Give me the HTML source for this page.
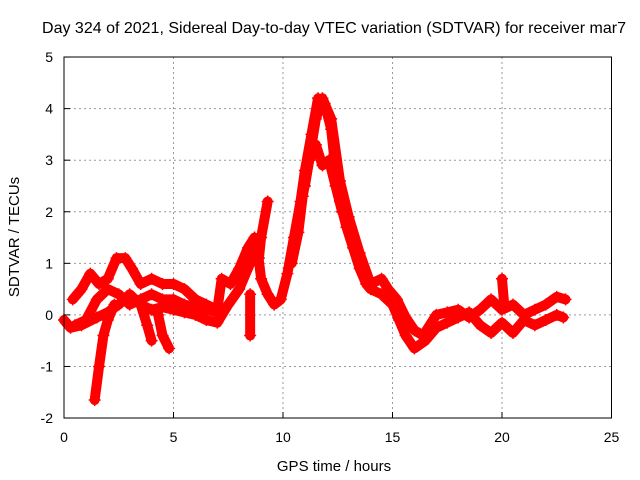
<!DOCTYPE html>
<html><head><meta charset="utf-8"><style>
body{margin:0;background:#fff;}
svg{display:block;font-family:"Liberation Sans",sans-serif;}
</style></head><body>
<svg id="chart" width="640" height="480">
<rect width="640" height="480" fill="#fff"/>
<text x="334" y="33" font-size="16" text-anchor="middle">Day 324 of 2021, Sidereal Day-to-day VTEC variation (SDTVAR) for receiver mar7</text>
<text x="334" y="471" font-size="15" text-anchor="middle">GPS time / hours</text>
<text transform="translate(19,237) rotate(-90)" font-size="15" text-anchor="middle">SDTVAR / TECUs</text>
<g id="grid"></g><g id="ticks"></g><g id="series"></g>
<rect x="64" y="57" width="547.5" height="361" fill="none" stroke="#000" stroke-width="1"/>
</svg>
<script>
const xTicks=[0,5,10,15,20,25];
const yTicks=[-2,-1,0,1,2,3,4,5];
const traceA=[[0,-0.1],[0.3,-0.25],[0.8,-0.2],[1.5,-0.05],[2,0.05],[2.5,0.2],[3,0.4],[3.5,0.2],[4,0.1],[4.5,0.15],[5,0.1],[5.5,0.05],[6,0.0],[6.5,-0.1],[7,-0.15],[7.5,0.2],[8,0.5],[8.5,1.0],[8.8,1.4],[9,0.7],[9.3,0.4],[9.6,0.2],[9.9,0.3],[10.2,0.8],[10.5,1.5],[10.8,2.2],[11,2.8],[11.3,3.5],[11.6,4.2],[11.9,4.1],[12.2,3.6],[12.4,2.8],[12.6,2.2],[12.9,1.7],[13.2,1.3],[13.5,0.9],[13.8,0.6],[14,0.5],[14.5,0.4],[15,0.2],[15.3,-0.1],[15.6,-0.4],[16,-0.65],[16.5,-0.5],[17,-0.25],[17.5,-0.15],[18,-0.05],[18.5,0.05],[19,-0.2],[19.5,-0.35],[20,-0.15],[20.5,-0.35],[21,-0.1],[21.5,-0.2],[22,-0.1],[22.5,0.0],[22.8,-0.05]];
const traceB=[[0.4,0.3],[0.8,0.5],[1.2,0.8],[1.6,0.6],[2,0.7],[2.4,1.1],[2.8,1.1],[3.1,0.9],[3.5,0.6],[4,0.7],[4.5,0.6],[5,0.6],[5.5,0.5],[6,0.3],[6.5,0.2],[7,0.1],[7.2,0.7],[7.6,0.6],[8,0.9],[8.4,1.3],[8.7,1.5],[8.9,1.1],[9,1.5],[9.3,2.2]];
const traceB2=[[11.0,2.5],[11.5,3.8],[11.8,4.2],[12.2,3.8],[12.6,2.6],[13,1.9],[13.5,1.2],[14,0.6],[14.5,0.7],[14.8,0.5],[15.2,0.3],[15.6,-0.05],[16,-0.3],[16.4,-0.4],[17,0.0],[17.5,0.05],[18,0.1],[18.5,-0.05],[19,0.1],[19.5,0.3],[20,0.1],[20.5,0.2],[21,0.0],[21.5,0.1],[22,0.2],[22.5,0.35],[22.9,0.3]];
const tracePeak=[[10.4,1.0],[10.7,1.6],[10.9,2.3],[11.2,3.0],[11.5,3.3],[11.8,2.9],[12.1,3.0],[12.4,2.5],[12.7,2.0]];
const traceC=[[0.5,-0.2],[1,-0.1],[1.5,0.3],[2,0.5],[2.5,0.4],[3,0.2],[3.5,0.3],[4,0.4],[4.5,0.3],[5,0.3],[5.5,0.2],[6,0.15],[6.5,0.1],[7,0.05]];
const traceD=[[1.4,-1.65],[1.6,-1.0],[1.8,-0.4],[2,-0.1],[2.3,0.2]];
const traceE=[[3.5,0.2],[3.8,-0.2],[4.0,-0.5]];
const traceF=[[4.3,0.0],[4.5,-0.4],[4.8,-0.65]];
const traceG=[[8.5,0.4],[8.5,-0.4]];
const traceH=[[20,0.7],[20.1,0.2]];
const traces=[traceA,traceB,traceB2,tracePeak,traceC,traceD,traceE,traceF,traceG,traceH];
const NS="http://www.w3.org/2000/svg";
const X=h=>64+h*21.9, Y=v=>314.9-v*51.57;
const grid=document.getElementById('grid'),ticks=document.getElementById('ticks'),ser=document.getElementById('series');
function mk(tag,a,p){const e=document.createElementNS(NS,tag);for(const k in a)e.setAttribute(k,a[k]);p.appendChild(e);return e;}
xTicks.forEach(t=>{const x=X(t);
 if(t>0&&t<25){const g=mk('line',{x1:x,x2:x,y1:57,y2:418,stroke:'#999','stroke-dasharray':'2,3'},grid);
 
 }
 const tk=mk('line',{x1:x,x2:x,y1:418,y2:412,stroke:'#000'},ticks);
 
 
 const l=mk('text',{x:x,y:442,'font-size':14,'text-anchor':'middle'},ticks);l.textContent=t;
 
 
});
yTicks.forEach(t=>{const y=Y(t);
 if(t>-2&&t<5){const g=mk('line',{x1:64,x2:611.5,y1:y,y2:y,stroke:'#999','stroke-dasharray':'2,3'},grid);
 
 }
 const tk=mk('line',{x1:64,x2:70,y1:y,y2:y,stroke:'#000'},ticks);
 
 
 const l=mk('text',{x:53,y:y+5,'font-size':14,'text-anchor':'end'},ticks);l.textContent=t;
 
 
});
traces.forEach(tr=>{
 const pl=mk('polyline',{points:tr.map(p=>X(p[0])+','+Y(p[1])).join(' '),fill:'none',stroke:'#f00','stroke-width':10,'stroke-linejoin':'round','stroke-linecap':'round'},ser);
 
 
 tr.forEach(p=>{const x=X(p[0]),y=Y(p[1]);
  const m=mk('path',{d:`M${x-6},${y}H${x+6}M${x},${y-6}V${y+6}`,stroke:'#f00','stroke-width':1.5},ser);
  
  
 });
});
</script>
</body></html>
